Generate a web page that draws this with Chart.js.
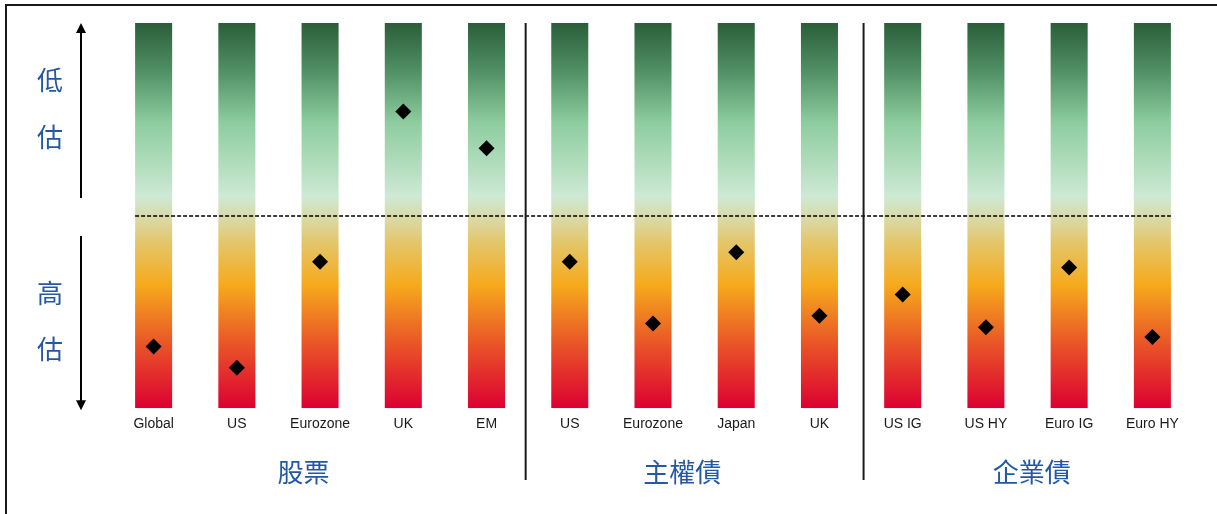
<!DOCTYPE html>
<html>
<head>
<meta charset="utf-8">
<script src="https://cdn.jsdelivr.net/npm/chart.js@4/dist/chart.umd.min.js"></script>
<style>
  body { margin: 0; background: #fff; }
  #wrap { width: 1217px; height: 514px; }
</style>
</head>
<body>
<div id="wrap"><canvas id="valuation" width="1217" height="514"></canvas></div>
<script>
// categories and valuation scores (-100 = most expensive, +100 = cheapest)
const categories = ["Global", "US", "Eurozone", "UK", "EM",
                    "US", "Eurozone", "Japan", "UK",
                    "US IG", "US HY", "Euro IG", "Euro HY"];
const scores = [-68, -79, -24, 54, 35, -24, -56, -19, -52, -41, -58, -27, -63];
const groupNames = ["股票", "主權債", "企業債"];
const groupEnds = [4, 8, 12];
const sideLabels = ["低", "估", "高", "估"];

const blue = "#2358a3";
const cjk = '"Noto Sans CJK TC", "Noto Sans CJK SC", sans-serif';

function barGradient(context) {
    const chart = context.chart;
    const area = chart.chartArea;
    if (!area) return "#ccc";
    const g = chart.ctx.createLinearGradient(0, area.top, 0, area.bottom);
    g.addColorStop(0, "#2a5e3a");
    g.addColorStop(0.12, "#4f8e62");
    g.addColorStop(0.26, "#8ecd9f");
    g.addColorStop(0.45, "#cde9d4");
    g.addColorStop(0.52, "#dcd69a");
    g.addColorStop(0.57, "#e3c66a");
    g.addColorStop(0.68, "#f6aa1c");
    g.addColorStop(0.82, "#ea5c26");
    g.addColorStop(1, "#dc0032");
    return g;
}

function arrow(ctx, x, y0, y1) {
    const dir = y1 < y0 ? -1 : 1;
    ctx.beginPath();
    ctx.moveTo(x, y0);
    ctx.lineTo(x, y1 - dir * 8);
    ctx.stroke();
    ctx.beginPath();
    ctx.moveTo(x, y1);
    ctx.lineTo(x - 5, y1 - dir * 10);
    ctx.lineTo(x + 5, y1 - dir * 10);
    ctx.closePath();
    ctx.fill();
}

const decorations = {
    id: "decorations",
    afterDraw(chart) {
        const ctx = chart.ctx;
        const x = chart.scales.x;
        const y = chart.scales.y;
        const area = chart.chartArea;
        const half = (x.getPixelForValue(1) - x.getPixelForValue(0)) * 0.445 / 2;
        ctx.save();

        // frame
        ctx.strokeStyle = "#1a1a1a";
        ctx.lineWidth = 2;
        ctx.beginPath();
        ctx.moveTo(6, 514);
        ctx.lineTo(6, 5);
        ctx.lineTo(1217, 5);
        ctx.stroke();

        // fair value line
        const mid = Math.round(y.getPixelForValue(0));
        ctx.strokeStyle = "#000";
        ctx.lineWidth = 1.5;
        ctx.setLineDash([4, 2]);
        ctx.beginPath();
        ctx.moveTo(x.getPixelForValue(0) - half, mid);
        ctx.lineTo(x.getPixelForValue(categories.length - 1) + half, mid);
        ctx.stroke();
        ctx.setLineDash([]);

        // group separators
        ctx.strokeStyle = "#1a1a1a";
        ctx.lineWidth = 2;
        const sepShift = [0.47, 0.53];
        groupEnds.slice(0, -1).forEach((e, i) => {
            const px = x.getPixelForValue(e + sepShift[i]);
            ctx.beginPath();
            ctx.moveTo(px, area.top);
            ctx.lineTo(px, 480);
            ctx.stroke();
        });

        // arrows
        ctx.fillStyle = "#000";
        ctx.strokeStyle = "#000";
        arrow(ctx, 81, 198, area.top);
        arrow(ctx, 81, 236, area.bottom + 2);

        // side labels
        ctx.fillStyle = blue;
        ctx.font = "26px " + cjk;
        ctx.textAlign = "center";
        ctx.textBaseline = "middle";
        const sideY = [80, 137, 293, 349];
        sideLabels.forEach((t, i) => ctx.fillText(t, 50, sideY[i]));

        // group labels
        const offsets = [-0.2, -0.15, 0.05];
        let start = 0;
        groupNames.forEach((t, i) => {
            const c = (start + groupEnds[i]) / 2 + offsets[i];
            ctx.fillText(t, x.getPixelForValue(c), 472);
            start = groupEnds[i] + 1;
        });
        ctx.restore();
    }
};

new Chart(document.getElementById("valuation"), {
    type: "bar",
    data: {
        labels: categories,
        datasets: [
            {
                type: "line",
                label: "Valuation",
                data: scores,
                showLine: false,
                pointStyle: "rectRot",
                pointRadius: 8,
                pointBackgroundColor: "#000",
                pointBorderWidth: 0,
                order: 0,
            },
            {
                label: "Range",
                data: categories.map(() => [-100, 100]),
                backgroundColor: barGradient,
                borderWidth: 0,
                barPercentage: 0.445,
                categoryPercentage: 1,
                order: 1,
            },
        ],
    },
    options: {
        responsive: false,
        animation: false,
        layout: {
            padding: { left: 112, right: 23, top: 23, bottom: 73 }
        },
        plugins: {
            legend: { display: false },
            tooltip: { enabled: false }
        },
        scales: {
            x: {
                grid: { display: false, drawTicks: false },
                border: { display: false },
                ticks: {
                    padding: 8,
                    color: "#1a1a1a",
                    font: { family: '"Liberation Sans", Arial, sans-serif', size: 14 },
                    maxRotation: 0,
                    autoSkip: false
                }
            },
            y: {
                display: false,
                min: -100,
                max: 100
            }
        }
    },
    plugins: [decorations]
});
</script>
</body>
</html>
